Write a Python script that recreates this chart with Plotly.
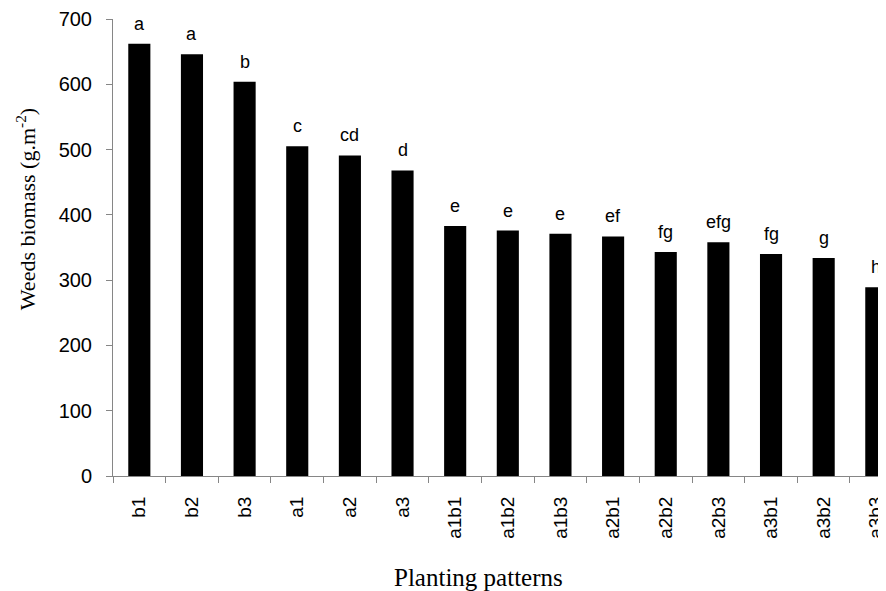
import plotly.graph_objects as go

categories = ["b1", "b2", "b3", "a1", "a2", "a3", "a1b1", "a1b2", "a1b3",
              "a2b1", "a2b2", "a2b3", "a3b1", "a3b2", "a3b3"]
biomass = [662, 646, 604, 505, 491, 468, 383, 376, 371, 367, 343, 358, 340, 334, 289]
letters = ["a", "a", "b", "c", "cd", "d", "e", "e", "e", "ef", "fg", "efg", "fg", "g", "h"]
y_ticks = [0, 100, 200, 300, 400, 500, 600, 700]

SANS = "Liberation Sans, Arial, sans-serif"
SERIF = "Liberation Serif, Times New Roman, serif"
AXIS_COLOR = "#868686"

# page body has an 8px default margin: size the figure so it ends at the window edge
OFF = 8

fig = go.Figure()
fig.add_trace(go.Bar(
    x=categories, y=biomass,
    marker=dict(color="black", line=dict(width=0)),
    width=0.42,
))

for c, v, t in zip(categories, biomass, letters):
    fig.add_annotation(x=c, y=v, text=t, showarrow=False, xref="x", yref="y",
                       yanchor="bottom", yshift=8,
                       font=dict(family=SANS, size=18, color="black"))

fig.add_annotation(xref="paper", yref="paper", x=0.476, y=-0.222,
                   text="Planting patterns", showarrow=False,
                   xanchor="center", yanchor="middle",
                   font=dict(family=SERIF, size=25, color="black"))
fig.add_annotation(xref="paper", yref="paper", x=-0.114, y=0.583,
                   text="Weeds biomass (g.m<sup>-2</sup>)", showarrow=False,
                   textangle=-90, xanchor="center", yanchor="middle",
                   font=dict(family=SERIF, size=22, color="black"))

fig.update_layout(
    width=886 - OFF, height=591 - OFF,
    margin=dict(l=113 - OFF, r=0, t=16 - OFF, b=115),
    plot_bgcolor="white", paper_bgcolor="white",
    showlegend=False,
    xaxis=dict(
        type="category", range=[-0.5, 14.07],
        showline=True, linecolor=AXIS_COLOR, linewidth=1,
        ticks="outside", tickson="boundaries", ticklen=6, tickcolor=AXIS_COLOR,
        tickangle=-90, ticklabelstandoff=12, ticklabeloverflow="allow",
        tickfont=dict(family=SANS, size=19, color="black"),
        showgrid=False, zeroline=False,
    ),
    yaxis=dict(
        range=[0, 700], tickvals=y_ticks,
        showline=True, linecolor=AXIS_COLOR, linewidth=1,
        ticks="outside", ticklen=6, tickcolor=AXIS_COLOR,
        ticklabelstandoff=10, ticklabeloverflow="allow",
        tickfont=dict(family=SANS, size=20, color="black"),
        showgrid=False, zeroline=False,
    ),
)

fig.write_html("out.html")
